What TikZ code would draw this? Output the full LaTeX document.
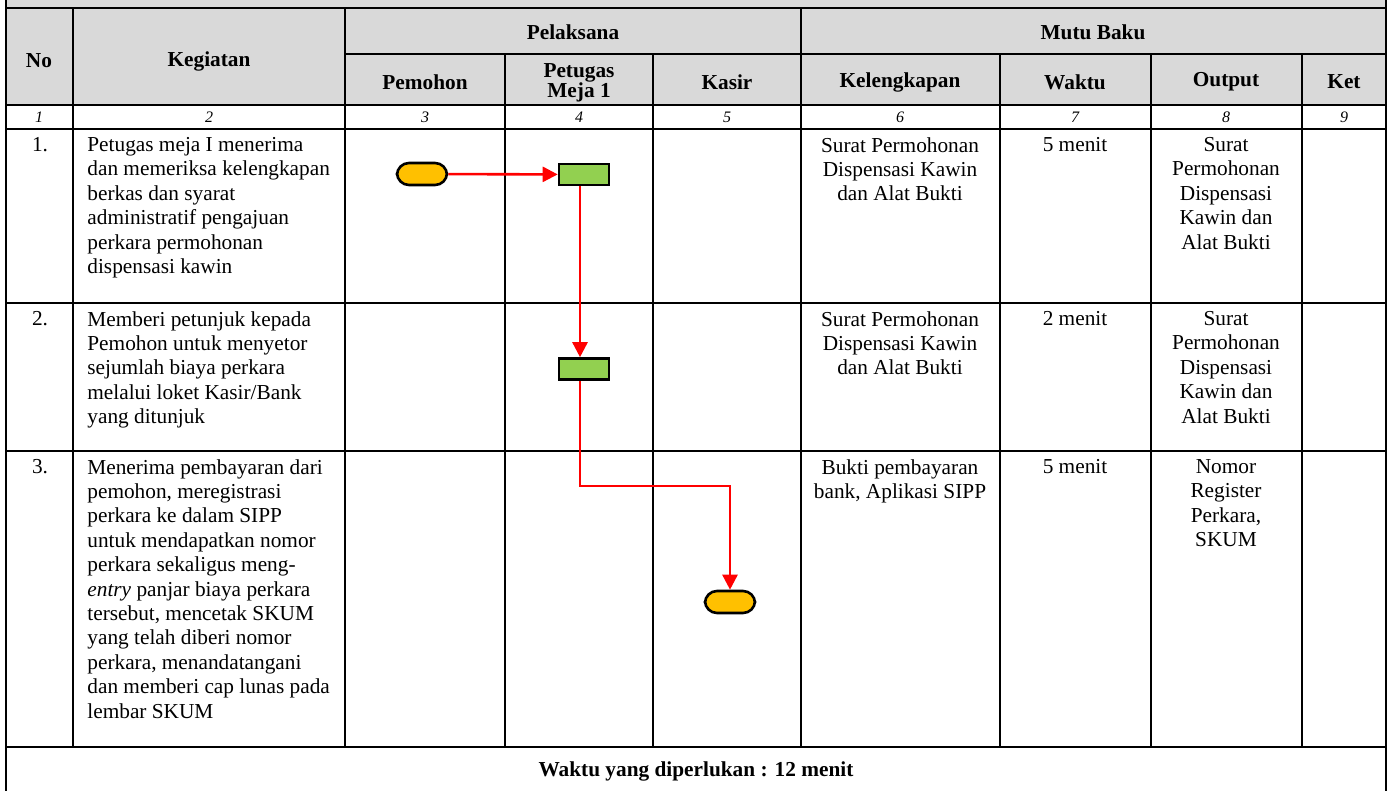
\documentclass[tikz,border=0pt]{standalone}
\usepackage{fontspec}
\setmainfont{Liberation Serif}
\usetikzlibrary{arrows.meta,positioning}

\definecolor{headgray}{HTML}{D9D9D9}
\definecolor{termorange}{HTML}{FFC000}
\definecolor{procgreen}{HTML}{92D050}

\tikzset{
  bodytext/.style={font=\fontsize{10.65}{12.2}\selectfont, inner sep=0pt},
  headtext/.style={font=\fontsize{10.65}{10.2}\selectfont\bfseries, inner sep=0pt, align=center},
  idxtext/.style={font=\fontsize{8}{9}\selectfont\itshape, inner sep=0pt},
  gridline/.style={line width=1pt},
  terminal/.style={draw, line width=1.3pt, fill=termorange, rounded corners=6pt,
    minimum width=25pt, minimum height=11pt, inner sep=0pt},
  process/.style={draw, line width=1.3pt, fill=procgreen,
    minimum width=25pt, minimum height=10.5pt, inner sep=0pt},
  flow/.style={red, line width=1.3pt, -{Triangle[length=7.5pt,width=7.5pt]}}
}

\begin{document}
\begin{tikzpicture}[x=0.5pt, y=-0.5pt]
\useasboundingbox (0,0) rectangle (1391,791);
\def\xl{6}      % left border
\def\xr{1386}   % right border
\def\yh{8}      % header top
\def\ys{54}     % sub header
\def\yi{105}    % index row top
\def\ya{129}    % row 1 top
\def\yb{303}    % row 2 top
\def\yc{451}    % row 3 top
\def\yf{747}    % footer top
%% Header background
\fill[headgray] (\xl,0) rectangle (\xr,\yi);
%% Grid lines
\draw[gridline] (\xl,0) -- (\xl,791);
\draw[gridline] (\xr,0) -- (\xr,791);
\draw[gridline] (\xl,\yh) -- (\xr,\yh);
\draw[gridline] (345,\ys) -- (\xr,\ys);
\foreach \y in {\yi,\ya,\yb,\yc,\yf}
  \draw[gridline] (\xl,\y) -- (\xr,\y);
\foreach \x in {73,345,801}
  \draw[gridline] (\x,\yh) -- (\x,\yf);
\foreach \x in {505,653,1000,1151,1302}
  \draw[gridline] (\x,\ys) -- (\x,\yf);
%% Header labels
\node[headtext] (hNo) at (39,61) {No};
\node[headtext] (hKeg) at (209,61) {Kegiatan};
\node[headtext] (hPel) at (573,32) {Pelaksana};
\node[headtext] (hMutu) at (1093,32) {Mutu Baku};
\node[headtext] (hPem) at (425,82) {Pemohon};
\node[headtext] (hPet) at (579,83) {Petugas\\Meja 1};
\node[headtext] (hKas) at (727,82) {Kasir};
\node[headtext] (hKel) at (900,82) {Kelengkapan};
\node[headtext] (hWak) at (1075,82) {Waktu};
\node[headtext] (hOut) at (1226,82) {Output};
\node[headtext] (hKet) at (1344,82) {Ket};
%% Index row
\foreach \x/\n in {39/1,209/2,425/3,579/4,727/5,900/6,1075/7,1226/8,1344/9}
  \node[idxtext] (idx\n) at (\x,117) {\n};
%% Row 1
\node[bodytext, anchor=north] (no1) at (40,137) {1.};
\node[bodytext, anchor=north west, align=left] (keg1) at (87,137)
  {Petugas meja I menerima\\dan memeriksa kelengkapan\\berkas dan syarat\\administratif pengajuan\\perkara permohonan\\dispensasi kawin};
\node[bodytext, anchor=north, align=center] (kel1) at (900,137)
  {Surat Permohonan\\Dispensasi Kawin\\dan Alat Bukti};
\node[bodytext, anchor=north] (wak1) at (1075,137) {5 menit};
\node[bodytext, anchor=north, align=center] (out1) at (1226,137)
  {Surat\\Permohonan\\Dispensasi\\Kawin dan\\Alat Bukti};
%% Row 2
\node[bodytext, anchor=north] (no2) at (40,311) {2.};
\node[bodytext, anchor=north west, align=left] (keg2) at (87,311)
  {Memberi petunjuk kepada\\Pemohon untuk menyetor\\sejumlah biaya perkara\\melalui loket Kasir/Bank\\yang ditunjuk};
\node[bodytext, anchor=north, align=center] (kel2) at (900,311)
  {Surat Permohonan\\Dispensasi Kawin\\dan Alat Bukti};
\node[bodytext, anchor=north] (wak2) at (1075,311) {2 menit};
\node[bodytext, anchor=north, align=center] (out2) at (1226,311)
  {Surat\\Permohonan\\Dispensasi\\Kawin dan\\Alat Bukti};
%% Row 3
\node[bodytext, anchor=north] (no3) at (40,459) {3.};
\node[bodytext, anchor=north west, align=left] (keg3) at (87,459)
  {Menerima pembayaran dari\\pemohon, meregistrasi\\perkara ke dalam SIPP\\untuk mendapatkan nomor\\perkara sekaligus meng-\\\textit{entry} panjar biaya perkara\\tersebut, mencetak SKUM\\yang telah diberi nomor\\perkara, menandatangani\\dan memberi cap lunas pada\\lembar SKUM};
\node[bodytext, anchor=north, align=center] (kel3) at (900,459)
  {Bukti pembayaran\\bank, Aplikasi SIPP};
\node[bodytext, anchor=north] (wak3) at (1075,459) {5 menit};
\node[bodytext, anchor=north, align=center] (out3) at (1226,459)
  {Nomor\\Register\\Perkara,\\SKUM};
%% Footer
\node[headtext] (total) at (696,771) {Waktu yang diperlukan : 12 menit};
%% Flow shapes
\node[terminal] (start) at (422,174) {};
\node[process] (check) at (584,174.5) {};
\node[process] (guide) at (584,369) {};
\node[terminal] (finish) at (730,602) {};
\coordinate (turn) at (730,486);
%% Flow connectors
\draw[flow] (start) -- (check);
\draw[flow] ([xshift=-2pt]check.south) -- ([xshift=-2pt]guide.north);
\draw[flow] ([xshift=-2pt]guide.south) |- (turn) -- (finish.north);
\end{tikzpicture}
\end{document}
